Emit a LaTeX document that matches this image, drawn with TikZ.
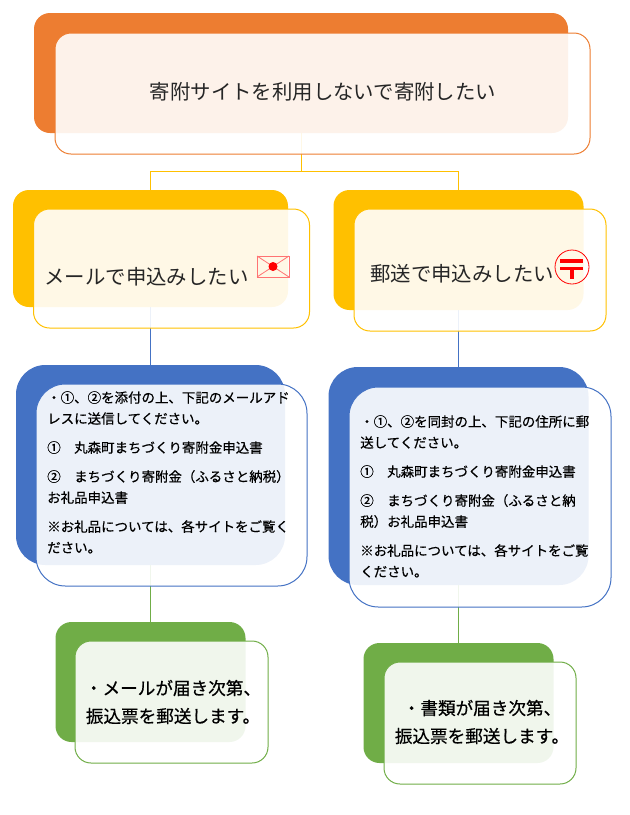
\documentclass[tikz,border=0pt]{standalone}
\usepackage{fontspec}
\setmainfont{Noto Sans CJK JP}
\newfontfamily\jpbody[FakeBold=0.5]{Noto Sans CJK JP}
\usetikzlibrary{positioning,calc,backgrounds}
\definecolor{cOrange}{HTML}{ED7D31}
\definecolor{cGold}{HTML}{FFC000}
\definecolor{cBlue}{HTML}{4472C4}
\definecolor{cGreen}{HTML}{70AD47}
\definecolor{cMark}{HTML}{FF0000}
\def\px{0.75pt}

\begin{document}
\begin{tikzpicture}[
    x=0.75pt, y=-0.75pt,
    backbox/.style={rectangle, inner sep=0pt, rounded corners=#1},
    frontbox/.style={rectangle, inner sep=0pt, rounded corners=#1, fill=white, fill opacity=0.9, line width=1*\px},
    size/.style n args={2}{minimum width=#1*\px, minimum height=#2*\px},
    headtext/.style={font=\fontsize{15.3}{20}\selectfont, text=black!85, inner sep=0pt},
    bodytext/.style={font=\fontsize{10.1}{15.75}\selectfont\jpbody, text=black, inner sep=0pt, anchor=north west, align=left},
    lasttext/.style={font=\fontsize{13.2}{21}\selectfont\jpbody, text=black, inner sep=0pt, align=center},
    link/.style={line width=1*\px},
]
  \useasboundingbox (0,0) rectangle (630,815);

  % top
  \node[backbox=12, size={534}{120}, fill=cOrange] (hope) at (301,73) {};
  \node[frontbox=12, size={535}{121}, draw=cOrange] (hopefront) at (322.5,93.5) {};
  \node[headtext] (hopetext) at (323,92) {寄附サイトを利用しないで寄附したい};

  % second row
  \node[backbox=12, size={275}{117}, fill=cGold] (mail) at (150.5,248.5) {};
  \node[frontbox=12, size={276}{119}, draw=cGold] (mailfront) at (171.5,268.5) {};
  \node[headtext] (mailtext) at (146.5,277) {メールで申込みしたい};

  \node[backbox=12, size={250}{120}, fill=cGold] (post) at (458.5,250) {};
  \node[frontbox=12, size={252}{122}, draw=cGold] (postfront) at (480,270) {};
  \node[headtext] (posttext) at (462,274) {郵送で申込みしたい};

  % third row
  \node[backbox=22, size={269}{200}, fill=cBlue] (mailhow) at (150.5,465) {};
  \node[frontbox=22, size={271}{202}, draw=cBlue] (mailhowfront) at (171.5,485) {};
  \node[bodytext] (mailhowtext) at (47,391) {・①、②を添付の上、下記のメールアド\\
    レスに送信してください。\\[6pt]
    ①\hspace{1em}丸森町まちづくり寄附金申込書\\[6pt]
    ②\hspace{1em}まちづくり寄附金（ふるさと納税）\\
    お礼品申込書\\[6pt]
    ※お礼品については、各サイトをご覧く\\
    ださい。};

  \node[backbox=22, size={260}{218}, fill=cBlue] (posthow) at (458.5,476) {};
  \node[frontbox=22, size={262}{220}, draw=cBlue] (posthowfront) at (480,497) {};
  \node[bodytext] (posthowtext) at (360,415) {・①、②を同封の上、下記の住所に郵\\
    送してください。\\[6pt]
    ①\hspace{1em}丸森町まちづくり寄附金申込書\\[6pt]
    ②\hspace{1em}まちづくり寄附金（ふるさと納\\
    税）お礼品申込書\\[6pt]
    ※お礼品については、各サイトをご覧\\
    ください。};

  % bottom row
  \node[backbox=12, size={190}{120}, fill=cGreen] (mailend) at (150.5,682) {};
  \node[frontbox=12, size={193}{122}, draw=cGreen] (mailendfront) at (171.5,702) {};
  \node[lasttext] (mailendtext) at (173,702) {・メールが届き次第、\\振込票を郵送します。};

  \node[backbox=12, size={190}{120}, fill=cGreen] (postend) at (458.5,703) {};
  \node[frontbox=12, size={192}{122}, draw=cGreen] (postendfront) at (480,723) {};
  \node[lasttext] (postendtext) at (482,722) {・書類が届き次第、\\振込票を郵送します。};

  % connectors go under the boxes
  \coordinate (fork) at (hope.south |- 0,171);
  \begin{scope}[on background layer]
    \draw[link, cGold] (hope.south) -- (fork);
    \draw[link, cGold] (fork) -| (mail.north);
    \draw[link, cGold] (fork) -| (post.north);
    \draw[link, cBlue] (mail.south) -- (mailhow.north);
    \draw[link, cBlue] (post.south) -- (posthow.north);
    \draw[link, cGreen] (mailhow.south) -- (mailend.north);
    \draw[link, cGreen] (posthow.south) -- (postend.north);
  \end{scope}

  % envelope
  \draw[cMark!55, line width=1*\px] (257,256) rectangle (289,277);
  \draw[cMark!55, line width=0.8*\px] (257,256) -- (289,277) (289,256) -- (257,277);
  \fill[cMark] (273,266.5) circle [radius=4.5];

  % post mark
  \draw[cMark, line width=0.8*\px] (572,267) circle [radius=17];
  \fill[cMark] (560,259) rectangle (583,262.5);
  \fill[cMark] (560,267) rectangle (583,270);
  \fill[cMark] (569.5,270) rectangle (573.5,278.5);
\end{tikzpicture}
\end{document}
